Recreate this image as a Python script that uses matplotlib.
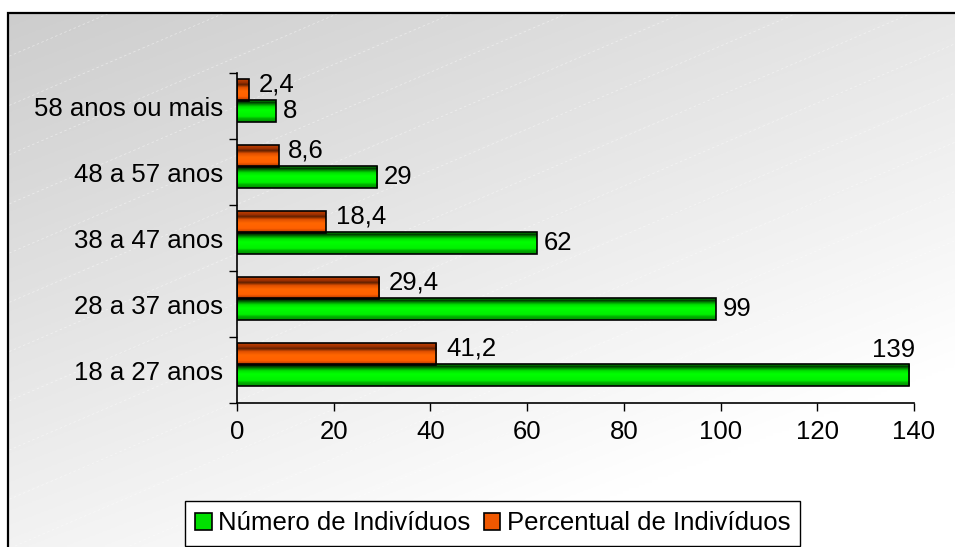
import numpy as np
import matplotlib
matplotlib.use("Agg")
import matplotlib.pyplot as plt
from matplotlib.patches import Rectangle, Patch
from matplotlib.colors import LinearSegmentedColormap

plt.rcParams['font.family'] = ['Liberation Sans', 'DejaVu Sans']

categories = ["18 a 27 anos", "28 a 37 anos", "38 a 47 anos", "48 a 57 anos", "58 anos ou mais"]
numero = [139, 99, 62, 29, 8]
percentual = [41.2, 29.4, 18.4, 8.6, 2.4]
numero_labels = ["139", "99", "62", "29", "8"]
percentual_labels = ["41,2", "29,4", "18,4", "8,6", "2,4"]
series_names = ["Número de Indivíduos", "Percentual de Indivíduos"]
xticks = [0, 20, 40, 60, 80, 100, 120, 140]

W, H = 955, 547
fig = plt.figure(figsize=(W / 100, H / 100), dpi=100)

# background gradient
bg = fig.add_axes([0, 0, 1, 1], zorder=-10)
gx, gy = np.meshgrid(np.linspace(0, 1, 300), np.linspace(0, 1, 200))
t = np.clip((gx * 0.6 + gy * 0.9) / 1.2, 0, 1)
val = 0.80 + 0.20 * t
img = np.dstack([val, val, val])
bg.imshow(img, extent=(0, 1, 0, 1), aspect='auto', origin='upper')
# faint diagonal dashed lines
for k in np.arange(-1.0, 1.2, 0.09):
    bg.plot([0, 1], [k, k + 0.75], color='white', lw=0.6, ls=(0, (3, 3)), alpha=0.45)
bg.set_xlim(0, 1)
bg.set_ylim(0, 1)
bg.axis('off')
# white margin outside frame
fig.patches.append(Rectangle((0, 1 - 13 / H), 1, 13 / H, transform=fig.transFigure,
                             facecolor='white', edgecolor='none', zorder=-5))
fig.patches.append(Rectangle((0, 0), 8 / W, 1, transform=fig.transFigure,
                             facecolor='white', edgecolor='none', zorder=-5))
fig.patches.append(Rectangle((8 / W, -0.1), 1.1, 1 - 13 / H + 0.1, transform=fig.transFigure,
                             facecolor='none', edgecolor='black', linewidth=1.6, zorder=-4))

ax = fig.add_axes([237 / W, 1 - 403 / H, 677 / W, 330 / H])
ax.set_facecolor('none')

y = np.arange(len(categories))
h = 0.33
green_cmap = LinearSegmentedColormap.from_list("g", [
    (0.0, "#00c000"), (0.10, "#003000"), (0.18, "#008000"), (0.30, "#00e000"),
    (0.45, "#00ff00"), (0.75, "#00f000"), (0.85, "#00b000"), (1.0, "#009000")])
orange_cmap = LinearSegmentedColormap.from_list("o", [
    (0.0, "#c04000"), (0.15, "#a03000"), (0.25, "#602000"), (0.38, "#e05000"),
    (0.55, "#ff6600"), (0.80, "#ff6000"), (0.90, "#d04800"), (1.0, "#b03800")])

bars_g = ax.barh(y - 0.08, numero, height=h, facecolor='none', edgecolor='black', linewidth=1.2, zorder=3)
bars_o = ax.barh(y + 0.24, percentual, height=h, facecolor='none', edgecolor='black', linewidth=1.2, zorder=3)

grad = np.linspace(0, 1, 100).reshape(-1, 1)
for bars, cmap in ((bars_g, green_cmap), (bars_o, orange_cmap)):
    for p in bars:
        x0, y0 = p.get_x(), p.get_y()
        w, hh = p.get_width(), p.get_height()
        im = ax.imshow(grad, cmap=cmap, extent=(x0, x0 + w, y0, y0 + hh), origin='upper',
                       aspect='auto', zorder=2)
        im.set_clip_path(p)

xmax = 140
fs = 18.5
for p, lab, v in zip(bars_g, numero_labels, numero):
    cy = p.get_y() + p.get_height() / 2
    if v > 0.9 * xmax:
        ax.annotate(lab, (v, p.get_y() + p.get_height()), xytext=(4, 2), textcoords='offset points',
                    ha='right', va='bottom', fontsize=fs)
    else:
        ax.annotate(lab, (v, cy), xytext=(5, 0), textcoords='offset points',
                    ha='left', va='center', fontsize=fs)
for p, lab, v in zip(bars_o, percentual_labels, percentual):
    cy = p.get_y() + p.get_height() / 2
    ax.annotate(lab, (v, cy), xytext=(7, 4), textcoords='offset points',
                ha='left', va='center', fontsize=fs)

ax.set_xlim(0, xmax)
ax.set_ylim(-0.5, len(categories) - 0.5)
ax.set_xticks(xticks)
ax.set_xticklabels([str(v) for v in xticks], fontsize=fs)
ax.set_yticks(y)
ax.set_yticklabels(categories, fontsize=fs)
ax.tick_params(axis='y', length=0, pad=10)
ax.set_yticks(np.arange(-0.5, len(categories), 1.0), minor=True)
ax.tick_params(axis='y', which='minor', length=6, width=1, direction='out')
ax.tick_params(axis='x', length=6, width=1, direction='out', pad=6)
for s in ('top', 'right'):
    ax.spines[s].set_visible(False)
ax.spines['left'].set_linewidth(1.2)
ax.spines['bottom'].set_linewidth(1.2)

handles = [Patch(facecolor='#00e000', edgecolor='black', linewidth=1.2),
           Patch(facecolor='#f05800', edgecolor='black', linewidth=1.2)]
leg = fig.legend(handles, series_names, loc='upper left', bbox_to_anchor=(185 / W, 1 - 501 / H),
                 fontsize=fs, frameon=True, fancybox=False, edgecolor='black', framealpha=1,
                 ncol=2, handlelength=0.65, handleheight=0.65, handletextpad=0.25,
                 columnspacing=0.5, borderpad=0.4, borderaxespad=0)
leg.get_frame().set_linewidth(1.0)

fig.savefig("out.png", dpi=100)
